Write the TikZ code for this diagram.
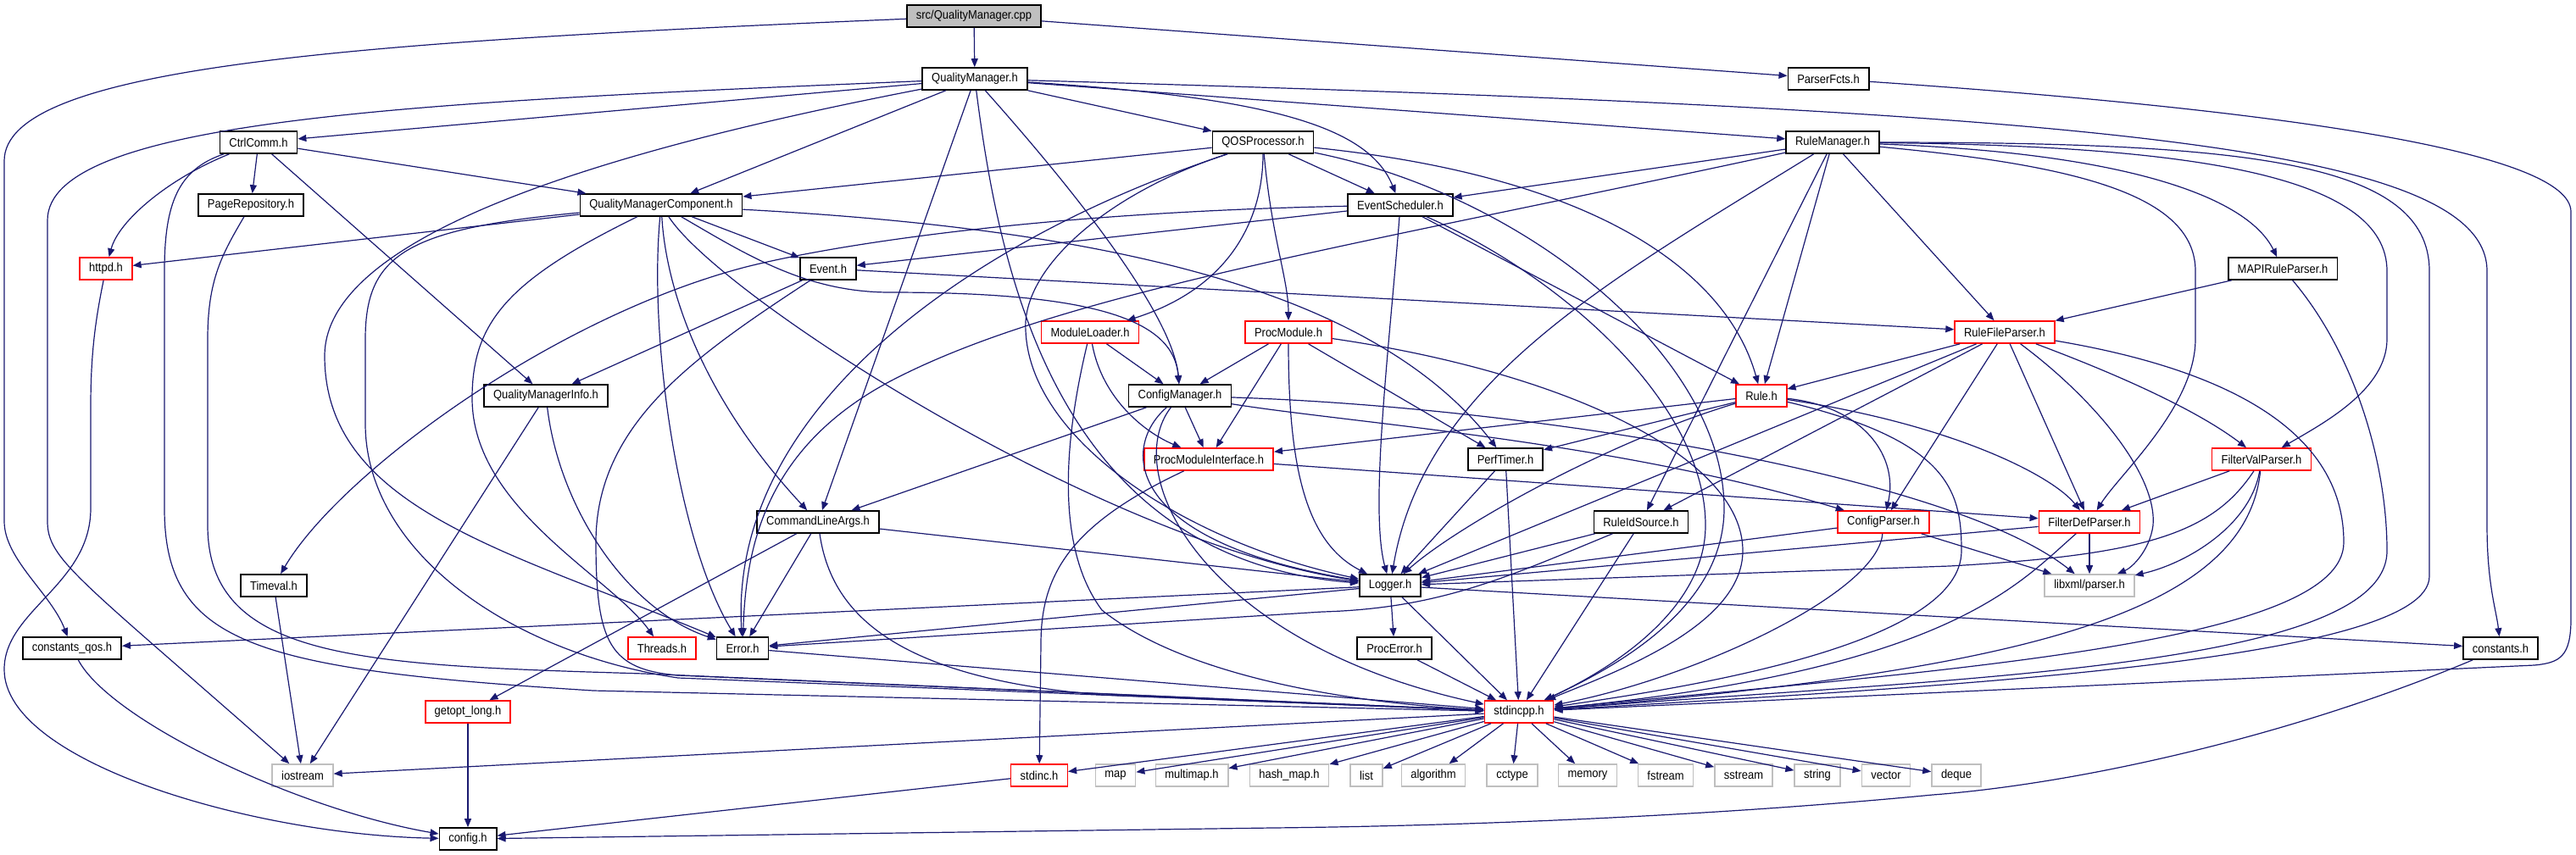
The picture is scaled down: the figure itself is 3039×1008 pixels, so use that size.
\documentclass[tikz,border=0pt]{standalone}
\usepackage{fontspec}
\setmainfont{Liberation Sans}[FakeStretch=0.9]
\usepackage{tikz}
\usetikzlibrary{arrows.meta}
\definecolor{edgeblue}{HTML}{191970}
\definecolor{sysgray}{HTML}{BFBFBF}

\begin{document}
\begin{tikzpicture}[
    x=0.5pt, y=-0.5pt,
    filebox/.style={draw=black, line width=0.8pt, fill=white, minimum height=13pt, inner xsep=5.5pt, inner ysep=0pt, font=\fontsize{7.2}{8}\selectfont},
    redbox/.style={filebox, draw=red},
    sysbox/.style={filebox, draw=sysgray},
    rootbox/.style={filebox, fill=sysgray},
    arrow/.style={-{Triangle[length=5pt,width=4pt]}, draw=edgeblue, line width=0.6pt}
]
\useasboundingbox (0,0) rectangle (3039,1008);

\node[rootbox] (cpp) at (1149,19) {src/QualityManager.cpp};
\node[filebox] (qm) at (1150,93) {QualityManager.h};
\node[filebox] (parserfcts) at (2157,93) {ParserFcts.h};
\node[filebox] (ctrlcomm) at (305,168) {CtrlComm.h};
\node[filebox] (qos) at (1490,168) {QOSProcessor.h};
\node[filebox] (rulemgr) at (2162,168) {RuleManager.h};
\node[filebox] (pagerepo) at (296,242) {PageRepository.h};
\node[filebox] (qmc) at (780,242) {QualityManagerComponent.h};
\node[filebox] (evsched) at (1652,242) {EventScheduler.h};
\node[redbox] (httpd) at (125,317) {httpd.h};
\node[filebox] (event) at (977,317) {Event.h};
\node[filebox] (mapi) at (2693,317) {MAPIRuleParser.h};
\node[redbox] (modloader) at (1286,392) {ModuleLoader.h};
\node[redbox] (procmod) at (1520,392) {ProcModule.h};
\node[redbox] (rulefile) at (2365,392) {RuleFileParser.h};
\node[filebox] (qminfo) at (644,467) {QualityManagerInfo.h};
\node[filebox] (cfgmgr) at (1392,467) {ConfigManager.h};
\node[redbox] (rule) at (2078,467) {Rule.h};
\node[redbox] (pmi) at (1426,542) {ProcModuleInterface.h};
\node[filebox] (perftimer) at (1776,542) {PerfTimer.h};
\node[redbox] (filterval) at (2668,542) {FilterValParser.h};
\node[filebox] (cla) at (965,616) {CommandLineArgs.h};
\node[filebox] (ruleid) at (1936,616) {RuleIdSource.h};
\node[redbox] (cfgparser) at (2222,616) {ConfigParser.h};
\node[redbox] (filterdef) at (2465,616) {FilterDefParser.h};
\node[filebox] (timeval) at (323,691) {Timeval.h};
\node[filebox] (logger) at (1640,691) {Logger.h};
\node[sysbox] (libxml) at (2465,691) {libxml/parser.h};
\node[filebox] (constqos) at (85,765) {constants\_qos.h};
\node[redbox] (threads) at (781,765) {Threads.h};
\node[filebox] (error) at (876,765) {Error.h};
\node[filebox] (procerror) at (1645,765) {ProcError.h};
\node[filebox] (constants) at (2950,765) {constants.h};
\node[redbox] (getopt) at (552,840) {getopt\_long.h};
\node[redbox] (stdincpp) at (1792,840) {stdincpp.h};
\node[sysbox] (iostream) at (357,915) {iostream};
\node[redbox] (stdinc) at (1226,915) {stdinc.h};
\foreach \nm/\px/\txt in {map/1316/map, multimap/1406/multimap.h, hashmap/1521/hash\_map.h, list/1612/list, algorithm/1691/algorithm, cctype/1784/cctype, memory/1873/memory, fstream/1965/fstream, sstream/2057/sstream, string/2144/string, vector/2225/vector, deque/2308/deque}
  \node[sysbox] (\nm) at (\px,915) {\txt};
\node[filebox] (config) at (552,990) {config.h};

\draw[arrow] (cpp) -- (qm);
\draw[arrow] (cpp) -- (parserfcts);
\draw[arrow] (cpp) .. controls (400,50) and (5,80) .. (5,190) -- (5,615) .. controls (5,660) and (60,700) .. (constqos);

\draw[arrow] (qm) -- (ctrlcomm);
\draw[arrow] (qm) .. controls (500,120) and (56,140) .. (56,260) -- (56,615) .. controls (56,660) and (90,680) .. (iostream);
\draw[arrow] (qm) -- (qmc);
\draw[arrow] (qm) .. controls (700,180) and (383,280) .. (383,420) .. controls (383,600) and (600,650) .. (error);
\draw[arrow] (qm) -- (cla);
\draw[arrow] (qm) .. controls (1180,330) and (1250,660) .. (logger);
\draw[arrow] (qm) .. controls (1290,250) and (1385,380) .. (cfgmgr);
\draw[arrow] (qm) -- (qos);
\draw[arrow] (qm) -- (rulemgr);
\draw[arrow] (qm) .. controls (1500,115) and (1615,150) .. (evsched);
\draw[arrow] (qm) .. controls (2450,130) and (2934,170) .. (2934,320) -- (2934,620) .. controls (2934,690) and (2945,720) .. (constants);

\draw[arrow] (parserfcts) .. controls (2700,130) and (3033,180) .. (3033,250) -- (3033,730) .. controls (3033,775) and (3020,782) .. (2990,785) -- (stdincpp);

\draw[arrow] (ctrlcomm) .. controls (200,210) and (140,260) .. (httpd);
\draw[arrow] (ctrlcomm) -- (pagerepo);
\draw[arrow] (ctrlcomm) -- (qminfo);
\draw[arrow] (ctrlcomm) -- (qmc);
\draw[arrow] (ctrlcomm) .. controls (210,200) and (194,240) .. (194,320) -- (194,600) .. controls (194,760) and (300,790) .. (700,815) -- (stdincpp);

\draw[arrow] (pagerepo) .. controls (262,300) and (245,330) .. (245,400) -- (245,620) .. controls (245,780) and (430,785) .. (760,795) -- (stdincpp);

\draw[arrow] (httpd) .. controls (112,380) and (107,420) .. (107,480) -- (107,600) .. controls (107,690) and (5,720) .. (5,790) .. controls (5,900) and (300,985) .. (config);

\draw[arrow] (qmc) -- (httpd);
\draw[arrow] (qmc) -- (event);
\draw[arrow] (qmc) .. controls (880,300) and (950,345) .. (1050,345) .. controls (1300,345) and (1385,380) .. (cfgmgr);
\draw[arrow] (qmc) .. controls (785,330) and (820,460) .. (cla);
\draw[arrow] (qmc) .. controls (850,350) and (1300,640) .. (logger);
\draw[arrow] (qmc) .. controls (765,400) and (800,640) .. (error);
\draw[arrow] (qmc) .. controls (600,330) and (557,380) .. (557,470) .. controls (557,600) and (720,680) .. (threads);
\draw[arrow] (qmc) .. controls (480,270) and (431,300) .. (431,400) -- (431,500) .. controls (431,650) and (600,770) .. (800,800) -- (stdincpp);
\draw[arrow] (qmc) .. controls (1300,270) and (1620,340) .. (perftimer);

\draw[arrow] (qos) -- (qmc);
\draw[arrow] (qos) -- (evsched);
\draw[arrow] (qos) .. controls (1150,280) and (860,480) .. (error);
\draw[arrow] (qos) .. controls (1300,230) and (1205,320) .. (1210,390) .. controls (1215,520) and (1400,640) .. (logger);
\draw[arrow] (qos) .. controls (1490,260) and (1450,340) .. (modloader);
\draw[arrow] (qos) .. controls (1500,280) and (1520,330) .. (procmod);
\draw[arrow] (qos) .. controls (1900,210) and (2040,330) .. (rule);
\draw[arrow] (qos) .. controls (1800,230) and (2034,420) .. (2034,600) .. controls (2034,720) and (1900,790) .. (stdincpp);

\draw[arrow] (rulemgr) -- (evsched);
\draw[arrow] (rulemgr) .. controls (1600,290) and (1250,345) .. (1050,450) .. controls (900,530) and (880,650) .. (error);
\draw[arrow] (rulemgr) .. controls (1900,330) and (1680,450) .. (logger);
\draw[arrow] (rulemgr) -- (ruleid);
\draw[arrow] (rulemgr) -- (rule);
\draw[arrow] (rulemgr) -- (rulefile);
\draw[arrow] (rulemgr) .. controls (2500,180) and (2650,230) .. (mapi);
\draw[arrow] (rulemgr) .. controls (2600,172) and (2816,210) .. (2816,320) -- (2816,400) .. controls (2816,460) and (2740,500) .. (filterval);
\draw[arrow] (rulemgr) .. controls (2450,195) and (2590,230) .. (2590,320) -- (2590,400) .. controls (2590,480) and (2500,560) .. (filterdef);
\draw[arrow] (rulemgr) .. controls (2650,168) and (2866,190) .. (2866,320) -- (2866,680) .. controls (2866,780) and (2300,810) .. (stdincpp);

\draw[arrow] (evsched) -- (event);
\draw[arrow] (evsched) .. controls (1250,250) and (1000,285) .. (880,315) .. controls (650,375) and (400,560) .. (timeval);
\draw[arrow] (evsched) .. controls (1640,400) and (1615,600) .. (logger);
\draw[arrow] (evsched) -- (rule);
\draw[arrow] (evsched) .. controls (1850,330) and (2012,480) .. (2012,620) .. controls (2012,720) and (1900,790) .. (stdincpp);

\draw[arrow] (event) -- (qminfo);
\draw[arrow] (event) .. controls (820,420) and (703,500) .. (703,640) .. controls (703,760) and (720,790) .. (800,797) -- (stdincpp);
\draw[arrow] (event) -- (rulefile);

\draw[arrow] (mapi) -- (rulefile);
\draw[arrow] (mapi) .. controls (2780,420) and (2816,550) .. (2816,650) .. controls (2816,790) and (2300,800) .. (stdincpp);

\draw[arrow] (modloader) -- (cfgmgr);
\draw[arrow] (modloader) .. controls (1300,470) and (1350,510) .. (pmi);
\draw[arrow] (modloader) .. controls (1260,500) and (1240,640) .. (1300,720) .. controls (1400,800) and (1600,830) .. (stdincpp);

\draw[arrow] (procmod) -- (cfgmgr);
\draw[arrow] (procmod) -- (pmi);
\draw[arrow] (procmod) .. controls (1520,550) and (1540,640) .. (logger);
\draw[arrow] (procmod) -- (perftimer);
\draw[arrow] (procmod) .. controls (1850,440) and (2056,540) .. (2056,650) .. controls (2056,740) and (1900,795) .. (stdincpp);

\draw[arrow] (cfgmgr) -- (cla);
\draw[arrow] (cfgmgr) -- (pmi);
\draw[arrow] (cfgmgr) .. controls (1600,500) and (1900,520) .. (cfgparser);
\draw[arrow] (cfgmgr) .. controls (1800,480) and (2300,560) .. (libxml);
\draw[arrow] (cfgmgr) .. controls (1320,530) and (1330,640) .. (logger);
\draw[arrow] (cfgmgr) .. controls (1320,560) and (1420,760) .. (stdincpp);

\draw[arrow] (pmi) .. controls (1260,620) and (1228,680) .. (1228,760) -- (stdinc);
\draw[arrow] (pmi) -- (filterdef);

\draw[arrow] (cla) -- (getopt);
\draw[arrow] (cla) -- (error);
\draw[arrow] (cla) -- (logger);
\draw[arrow] (cla) .. controls (980,720) and (1050,800) .. (1300,820) -- (stdincpp);

\draw[arrow] (rule) -- (pmi);
\draw[arrow] (rule) -- (perftimer);
\draw[arrow] (rule) .. controls (1900,520) and (1720,620) .. (logger);
\draw[arrow] (rule) .. controls (2200,480) and (2240,540) .. (cfgparser);
\draw[arrow] (rule) .. controls (2300,500) and (2420,560) .. (filterdef);
\draw[arrow] (rule) .. controls (2300,520) and (2314,580) .. (2314,650) .. controls (2314,760) and (2000,810) .. (stdincpp);

\draw[arrow] (perftimer) -- (logger);
\draw[arrow] (perftimer) -- (stdincpp);

\draw[arrow] (ruleid) -- (logger);
\draw[arrow] (ruleid) .. controls (1780,680) and (1700,718) .. (1560,722) -- (error);
\draw[arrow] (ruleid) -- (stdincpp);

\draw[arrow] (cfgparser) -- (logger);
\draw[arrow] (cfgparser) .. controls (2215,700) and (2000,800) .. (stdincpp);
\draw[arrow] (cfgparser) -- (libxml);

\draw[arrow] (rulefile) -- (rule);
\draw[arrow] (rulefile) -- (ruleid);
\draw[arrow] (rulefile) -- (logger);
\draw[arrow] (rulefile) -- (cfgparser);
\draw[arrow] (rulefile) -- (filterdef);
\draw[arrow] (rulefile) .. controls (2470,470) and (2545,560) .. (2540,620) .. controls (2536,650) and (2515,670) .. (libxml);
\draw[arrow] (rulefile) .. controls (2520,450) and (2600,490) .. (filterval);
\draw[arrow] (rulefile) .. controls (2650,440) and (2765,520) .. (2765,640) .. controls (2765,760) and (2300,790) .. (stdincpp);

\draw[arrow] (filterval) -- (filterdef);
\draw[arrow] (filterval) .. controls (2610,630) and (2530,655) .. (2300,668) -- (logger);
\draw[arrow] (filterval) .. controls (2655,620) and (2580,665) .. (libxml);
\draw[arrow] (filterval) .. controls (2650,720) and (2400,790) .. (stdincpp);

\draw[arrow] (filterdef) -- (logger);
\draw[arrow] (filterdef) .. controls (2380,690) and (2300,790) .. (stdincpp);
\draw[arrow] (filterdef) -- (libxml);

\draw[arrow] (logger) -- (constqos);
\draw[arrow] (logger) -- (error);
\draw[arrow] (logger) -- (procerror);
\draw[arrow] (logger) -- (stdincpp);
\draw[arrow] (logger) -- (constants);

\draw[arrow] (procerror) -- (stdincpp);
\draw[arrow] (error) -- (stdincpp);
\draw[arrow] (qminfo) -- (iostream);
\draw[arrow] (qminfo) .. controls (660,600) and (740,720) .. (error);
\draw[arrow] (timeval) -- (iostream);

\draw[arrow] (stdincpp) -- (iostream);
\foreach \nm in {stdinc,map,multimap,hashmap,list,algorithm,cctype,memory,fstream,sstream,string,vector,deque}
  \draw[arrow] (stdincpp) -- (\nm);

\draw[arrow] (stdinc) -- (config);
\draw[arrow] (getopt) -- (config);
\draw[arrow] (constqos) .. controls (130,850) and (350,955) .. (config);
\draw[arrow] (constants) .. controls (2700,870) and (2450,925) .. (2280,938) .. controls (2000,965) and (1700,975) .. (1500,977) -- (config);
\end{tikzpicture}
\end{document}
